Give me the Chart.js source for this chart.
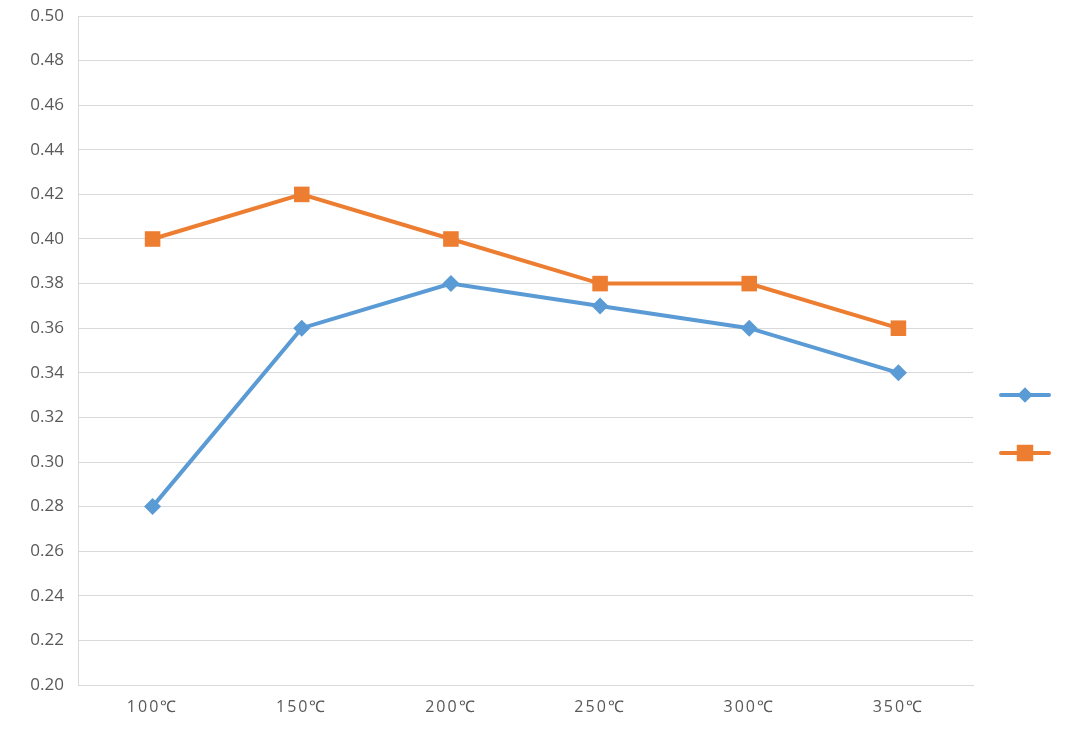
<!DOCTYPE html>
<html>
<head>
<meta charset="utf-8">
<script src="https://cdn.jsdelivr.net/npm/chart.js@4.4.1/dist/chart.umd.min.js"></script>
<style>
  html, body { margin: 0; padding: 0; background: #fff; }
  #wrap { width: 1081px; height: 731px; }
</style>
</head>
<body>
<div id="wrap"><canvas id="chart" width="1081" height="731"></canvas></div>
<script>
// categorías (temperatura) y valores de cada serie
const temps = ['100℃', '150℃', '200℃', '250℃', '300℃', '350℃'];
const serie1 = [0.28, 0.36, 0.38, 0.37, 0.36, 0.34];
const serie2 = [0.40, 0.42, 0.40, 0.38, 0.38, 0.36];
const yTicks = [0.20, 0.22, 0.24, 0.26, 0.28, 0.30, 0.32, 0.34, 0.36, 0.38, 0.40, 0.42, 0.44, 0.46, 0.48, 0.50];

const blue = '#5b9bd5';
const orange = '#ed7d31';

/* leyenda sin texto: solo línea + marcador, a la derecha */
const legendPlugin = {
  id: 'lineLegend',
  afterDraw(c) {
    const ctx = c.ctx;
    const items = [
      { color: blue, style: 'rectRot', r: 7.5, y: 395 },
      { color: orange, style: 'rect', r: 11.5, y: 453 }
    ];
    items.forEach(it => {
      ctx.save();
      ctx.strokeStyle = it.color;
      ctx.lineWidth = 4;
      ctx.lineCap = 'round';
      ctx.beginPath();
      ctx.moveTo(1001, it.y);
      ctx.lineTo(1049, it.y);
      ctx.stroke();
      ctx.fillStyle = it.color;
      Chart.helpers.drawPoint(ctx, { pointStyle: it.style, radius: it.r, borderWidth: 0 }, 1025, it.y);
      ctx.fill();
      ctx.restore();
    });
  }
};

// espaciado de letras en las etiquetas del eje x
const spacingPlugin = {
  id: 'xSpacing',
  afterLayout(c) {
    const s = c.scales.x;
    if (s._patched) return;
    const orig = s.drawLabels.bind(s);
    s.drawLabels = function (area) {
      c.ctx.save();
      c.ctx.letterSpacing = '2px';
      orig(area);
      c.ctx.restore();
    };
    s._patched = true;
  }
};

const ctx = document.getElementById('chart').getContext('2d');
const chart = new Chart(ctx, {
  type: 'line',
  data: {
    labels: temps,
    datasets: [
      {
        label: '',
        data: serie1,
        borderColor: blue,
        backgroundColor: blue,
        borderWidth: 4,
        pointStyle: 'rectRot',
        pointRadius: 8.5,
        pointHoverRadius: 8.5,
        pointBorderWidth: 0,
        tension: 0
      },
      {
        label: '',
        data: serie2,
        borderColor: orange,
        backgroundColor: orange,
        borderWidth: 4,
        pointStyle: 'rect',
        pointRadius: 11,
        pointHoverRadius: 11,
        pointBorderWidth: 0,
        tension: 0
      }
    ]
  },
  options: {
    responsive: false,
    animation: false,
    layout: { padding: { left: 0, right: 108, top: 16, bottom: 0 } },
    plugins: {
      legend: { display: false },
      tooltip: { enabled: false }
    },
    scales: {
      x: {
        offset: true,
        grid: { display: false, drawTicks: false },
        border: { display: true, color: '#d9d9d9', width: 1 },
        ticks: {
          padding: 13,
          color: '#595959',
          font: { family: 'Open Sans', size: 16 },
          maxRotation: 0
        },
        afterFit(s) { s.height = 731 - 685; s.paddingLeft = 0; s.paddingRight = 0; }
      },
      y: {
        min: 0.20,
        max: 0.50,
        afterBuildTicks(s) { s.ticks = yTicks.map(v => ({ value: v })); },
        grid: { color: '#d9d9d9', lineWidth: 1, drawTicks: false },
        border: { display: true, color: '#d9d9d9', width: 1 },
        ticks: {
          padding: 14,
          color: '#595959',
          font: { family: 'Open Sans', size: 17 },
          callback: v => v.toFixed(2)
        },
        afterFit(s) { s.width = 78; s.paddingTop = 0; s.paddingBottom = 0; }
      }
    }
  },
  plugins: [legendPlugin, spacingPlugin]
});
</script>
</body>
</html>
